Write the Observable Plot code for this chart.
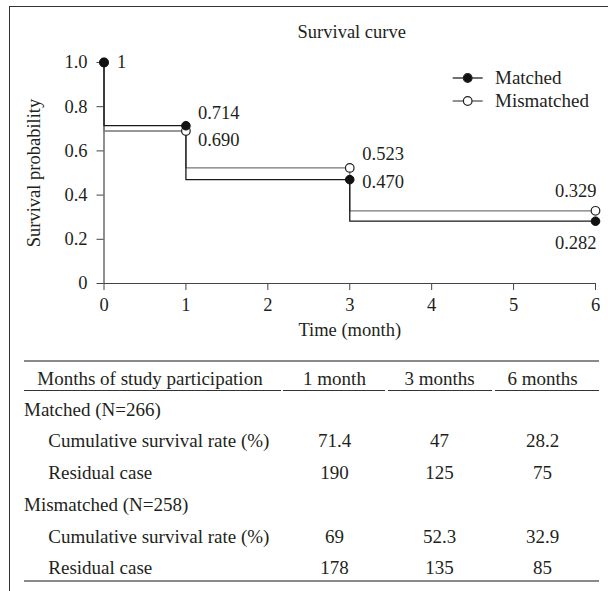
<!DOCTYPE html>
<html><head><meta charset="utf-8">
<script src="https://cdn.jsdelivr.net/npm/d3@7"></script>
<script src="https://cdn.jsdelivr.net/npm/@observablehq/plot@0.6"></script>
<style>
body{margin:0;background:#fff;}
#root{position:relative;width:608px;height:591px;overflow:hidden;font-family:"Liberation Serif",serif;color:#231f20;}
#frame{position:absolute;left:9px;top:6px;width:620px;height:600px;border-left:1.3px solid #333;border-top:1.3px solid #333;box-sizing:border-box}
#chart{position:absolute;left:0;top:0}
.t{position:absolute;white-space:nowrap;height:24px;line-height:24px;font-size:19px}
.c{text-align:center;width:120px}
.hl{position:absolute;height:0}
</style></head><body>
<div id="root"><div id="frame"></div><div id="chart"></div><div id="legend"></div><div id="table"></div></div>
<script>
// ---- data ----
const times = [0, 1, 3, 6];
const matchedSurv = [1, 0.714, 0.470, 0.282];
const mismatchedSurv = [1, 0.690, 0.523, 0.329];
const xTicks = [0, 1, 2, 3, 4, 5, 6];
const yTicks = [0, 0.2, 0.4, 0.6, 0.8, 1.0];
const seriesNames = ["Matched", "Mismatched"];
const tableHeader = ["Months of study participation", "1 month", "3 months", "6 months"];
const groupLabels = ["Matched (N=266)", "Mismatched (N=258)"];
const rowLabels = ["Cumulative survival rate (%)", "Residual case"];
const matchedRate = [71.4, 47, 28.2];
const matchedResidual = [190, 125, 75];
const mismatchedRate = [69, 52.3, 32.9];
const mismatchedResidual = [178, 135, 85];

const matched = times.map((t, i) => ({time: t, surv: matchedSurv[i], series: seriesNames[0]}));
const mismatched = times.map((t, i) => ({time: t, surv: mismatchedSurv[i], series: seriesNames[1]}));
const lab = d => d.surv === 1 ? "1" : d.surv.toFixed(3);
const ink = "#231f20";
const at = (arr, t) => arr.filter(d => d.time === t);
const lblOpts = (o) => Object.assign({x: "time", y: "surv", text: lab, fill: ink, lineAnchor: "middle"}, o);

const chart = Plot.plot({
  width: 608, height: 345,
  marginLeft: 103.5, marginRight: 13, marginTop: 62, marginBottom: 62,
  x: {domain: [0, 6]},
  y: {domain: [0, 1]},
  style: {fontFamily: "Liberation Serif", fontSize: "18.5px", color: ink, background: "transparent", overflow: "visible"},
  marks: [
    Plot.axisX({ticks: xTicks, tickSize: 7, tickPadding: 7, label: null, tickFormat: d => String(d), stroke: "#444"}),
    Plot.axisY({ticks: yTicks, tickSize: 7, tickPadding: 9.5, label: null, tickFormat: d => d === 0 ? "0" : d.toFixed(1), stroke: "#444"}),
    Plot.ruleY([0], {stroke: "#444", strokeWidth: 1.2}),
    Plot.ruleX([0], {stroke: "#444", strokeWidth: 1.2}),
    Plot.line(mismatched, {x: "time", y: "surv", curve: "step-before", stroke: "#777", strokeWidth: 1.3}),
    Plot.line(matched, {x: "time", y: "surv", curve: "step-before", stroke: "#1a1a1a", strokeWidth: 1.3}),
    Plot.dot(mismatched, {x: "time", y: "surv", r: 4.3, fill: "white", stroke: "#222", strokeWidth: 1.2}),
    Plot.dot(matched, {x: "time", y: "surv", r: 4.3, fill: "#111", stroke: "#111", strokeWidth: 1}),
    Plot.text(at(matched, 0), lblOpts({textAnchor: "start", dx: 13, dy: 0})),
    Plot.text(at(matched, 1), lblOpts({textAnchor: "start", dx: 12, dy: -13})),
    Plot.text(at(mismatched, 1), lblOpts({textAnchor: "start", dx: 12, dy: 9})),
    Plot.text(at(mismatched, 3), lblOpts({textAnchor: "start", dx: 12.5, dy: -14})),
    Plot.text(at(matched, 3), lblOpts({textAnchor: "start", dx: 12.5, dy: 2})),
    Plot.text(at(mismatched, 6), lblOpts({textAnchor: "end", dx: 1, dy: -20})),
    Plot.text(at(matched, 6), lblOpts({textAnchor: "end", dx: 1, dy: 22})),
    Plot.text(["Survival curve"], {text: d => d, frameAnchor: "top", lineAnchor: "middle", textAnchor: "middle", dy: -30, dx: 2, fill: ink}),
    Plot.text(["Survival probability"], {text: d => d, frameAnchor: "left", lineAnchor: "middle", textAnchor: "middle", rotate: -90, dx: -70, fill: ink}),
    Plot.text(["Time (month)"], {text: d => d, frameAnchor: "bottom", lineAnchor: "middle", textAnchor: "middle", dy: 47, fill: ink})
  ]
});
document.getElementById("chart").appendChild(chart);

// ---- legend ----
const legend = d3.select("#legend");
const legendY = [78.3, 100.7];
seriesNames.forEach((name, i) => {
  const svg = legend.append("svg").style("position", "absolute").style("left", "452px").style("top", (legendY[i] - 12) + "px")
    .attr("width", 32).attr("height", 24);
  svg.append("line").attr("x1", 0.7).attr("x2", 30.7).attr("y1", 12).attr("y2", 12).attr("stroke", i ? "#555" : "#222").attr("stroke-width", 1.3);
  svg.append("circle").attr("cx", 15.7).attr("cy", 12).attr("r", 4.3)
    .attr("fill", i ? "white" : "#111").attr("stroke", "#222").attr("stroke-width", 1.2);
  legend.append("div").attr("class", "t").style("left", "495px").style("top", (legendY[i] - 12) + "px").style("font-size", "19px").text(name);
});

// ---- table ----
const tbl = d3.select("#table");
const colX = [334.5, 439.5, 542.5];
const hline = (x0, x1, y, w, c) => tbl.append("div").attr("class", "hl")
  .style("left", x0 + "px").style("width", (x1 - x0) + "px").style("top", (y - w / 2) + "px")
  .style("border-top", `${w}px solid ${c}`);
hline(24, 599, 360.7, 2, "#8a8a8a");
[[24, 281], [283, 385], [388, 492], [495, 599]].forEach(([a, b]) => hline(a, b, 391, 1.3, "#333"));
hline(24, 599, 580.5, 2, "#8a8a8a");
const txt = (s, x, y, center) => tbl.append("div").attr("class", center ? "t c" : "t")
  .style("left", (center ? x - 60 : x) + "px").style("top", (y - 12) + "px").text(s);
txt(tableHeader[0], 37.3, 379.3, false);
tableHeader.slice(1).forEach((s, j) => txt(s, colX[j], 379.3, true));
const rowsY = [[410, 441, 473], [505, 536.5, 568]];
const vals = [[matchedRate, matchedResidual], [mismatchedRate, mismatchedResidual]];
groupLabels.forEach((g, gi) => {
  txt(g, 24, rowsY[gi][0], false);
  rowLabels.forEach((r, ri) => {
    txt(r, 48.3, rowsY[gi][ri + 1], false);
    vals[gi][ri].forEach((v, j) => txt(String(v), colX[j], rowsY[gi][ri + 1], true));
  });
});
</script>
</body></html>
